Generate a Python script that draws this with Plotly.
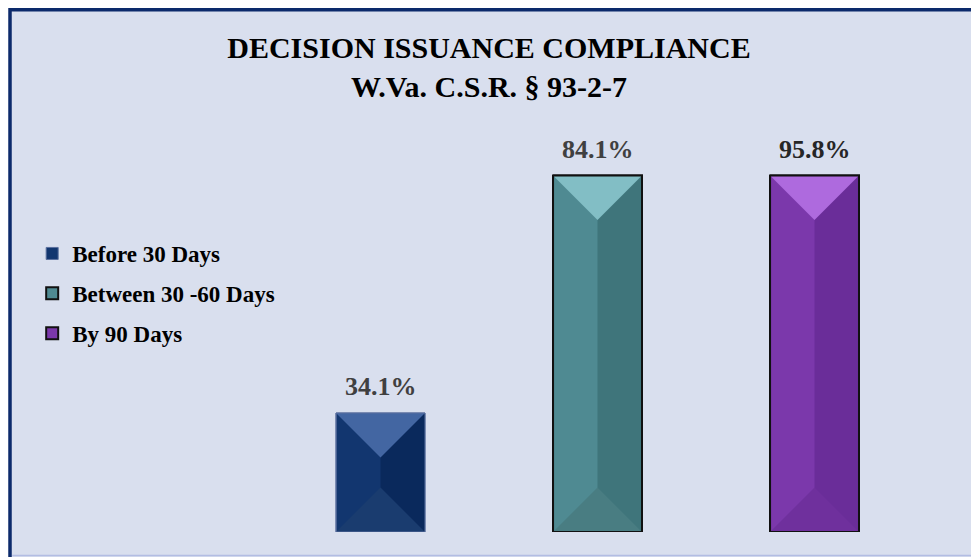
"""Decision issuance compliance bar chart (bevelled bars, capped display)."""
import plotly.graph_objects as go

CATEGORIES = ["Before 30 Days", "Between 30 -60 Days", "By 90 Days"]
VALUES = [34.1, 84.1, 95.8]
# the source chart tops out its axis at the 84.1% bar, so taller bars are capped
DISPLAY_CAP = 84.1

FILL_LEFT = ["#12366f", "#4f8a92", "#7b38ab"]
FILL_RIGHT = ["#0a295c", "#3f757b", "#6a2d99"]
FILL_TOP = ["#4366a2", "#82bec5", "#ae6ade"]
FILL_BOTTOM = ["#1a3c6f", "#497d82", "#6f309d"]
OUTLINE = ["#5a6f9e", "#111111", "#111111"]
OUTLINE_W = [1, 2, 2]
LABEL_COLOR = ["#404040", "#404040", "#262626"]

BG = "#d9dfee"
FONT = "Liberation Serif"

# page body adds an 8px margin, so figure pixels = screen pixels - 8
W, H = 979, 557
M_L, M_T = 264, 166
M_R, M_B = 63.5, 33
PLOT_W, PLOT_H = W - M_L - M_R, H - M_T - M_B
Y_RANGE = [9.05, 84.42]
BAR_W = 0.41

shown = [min(v, DISPLAY_CAP) for v in VALUES]
half = BAR_W / 2
px_x = PLOT_W / 3
px_y = PLOT_H / (Y_RANGE[1] - Y_RANGE[0])
depth = half * px_x / px_y  # 45-degree bevel in y units
bottom = max(0, Y_RANGE[0])


def px_to_paper_x(px):
    return (px - M_L) / PLOT_W


def px_to_paper_y(py):
    return (H - M_B - py) / PLOT_H


fig = go.Figure()

for i, cat in enumerate(CATEGORIES):
    fig.add_trace(go.Bar(
        x=[i], y=[shown[i]], name=cat, width=BAR_W,
        marker=dict(color=FILL_LEFT[i], line=dict(color=OUTLINE[i], width=OUTLINE_W[i])),
        legendgroup=cat, hoverinfo="skip",
    ))
for i, cat in enumerate(CATEGORIES):
    fig.add_trace(go.Bar(
        x=[i], y=[shown[i]], width=half, offset=0,
        marker=dict(color=FILL_RIGHT[i], line=dict(width=0)),
        legendgroup=cat, showlegend=False, hoverinfo="skip",
    ))

# bevel facets + outline
for i, cat in enumerate(CATEGORIES):
    c, t = i, shown[i]
    fig.add_trace(go.Scatter(
        x=[c - half, c + half, c, c - half], y=[t, t, t - depth, t],
        fill="toself", fillcolor=FILL_TOP[i], mode="lines", line=dict(width=0),
        legendgroup=cat, showlegend=False, hoverinfo="skip",
    ))
    fig.add_trace(go.Scatter(
        x=[c - half, c + half, c, c - half], y=[bottom, bottom, bottom + depth, bottom],
        fill="toself", fillcolor=FILL_BOTTOM[i], mode="lines", line=dict(width=0),
        legendgroup=cat, showlegend=False, hoverinfo="skip",
    ))
    fig.add_trace(go.Scatter(
        x=[c - half, c + half, c + half, c - half, c - half], y=[t, t, bottom, bottom, t],
        mode="lines", line=dict(color=OUTLINE[i], width=OUTLINE_W[i]),
        legendgroup=cat, showlegend=False, hoverinfo="skip", cliponaxis=False,
    ))

for i, v in enumerate(VALUES):
    fig.add_annotation(
        x=i, y=shown[i], text=f"{v:.1f}%", showarrow=False,
        yanchor="bottom", yshift=10,
        font=dict(family=FONT, size=26, weight="bold", color=LABEL_COLOR[i]),
    )

fig.update_layout(
    width=W, height=H,
    margin=dict(l=M_L, r=M_R, t=M_T, b=M_B),
    paper_bgcolor="white",
    plot_bgcolor="rgba(0,0,0,0)",
    barmode="overlay",
    title=dict(
        text="DECISION ISSUANCE COMPLIANCE<br>W.Va. C.S.R. § 93-2-7",
        x=(489 - 8) / W, xanchor="center", y=1 - 50 / H, yanchor="top",
        font=dict(family=FONT, size=30, weight="bold", color="black"),
    ),
    legend=dict(
        x=px_to_paper_x(24), y=px_to_paper_y(224), xanchor="left", yanchor="top",
        font=dict(family=FONT, size=23, weight="bold", color="black"),
        bgcolor="rgba(0,0,0,0)", tracegroupgap=7, traceorder="grouped",
    ),
    showlegend=True,
    xaxis=dict(range=[-0.5, 2.5], visible=False, fixedrange=True),
    yaxis=dict(range=Y_RANGE, visible=False, fixedrange=True),
    shapes=[
        dict(type="rect", xref="paper", yref="paper", layer="below",
             x0=px_to_paper_x(1.8), x1=px_to_paper_x(990),
             y0=px_to_paper_y(570), y1=px_to_paper_y(1.8),
             fillcolor=BG, line=dict(color="#0c2a6b", width=3.5)),
        dict(type="line", xref="paper", yref="paper", layer="below",
             x0=px_to_paper_x(4), x1=px_to_paper_x(990),
             y0=px_to_paper_y(547.5), y1=px_to_paper_y(547.5),
             line=dict(color="#b3bde3", width=1.5)),
    ],
)

fig.write_html("out.html")
